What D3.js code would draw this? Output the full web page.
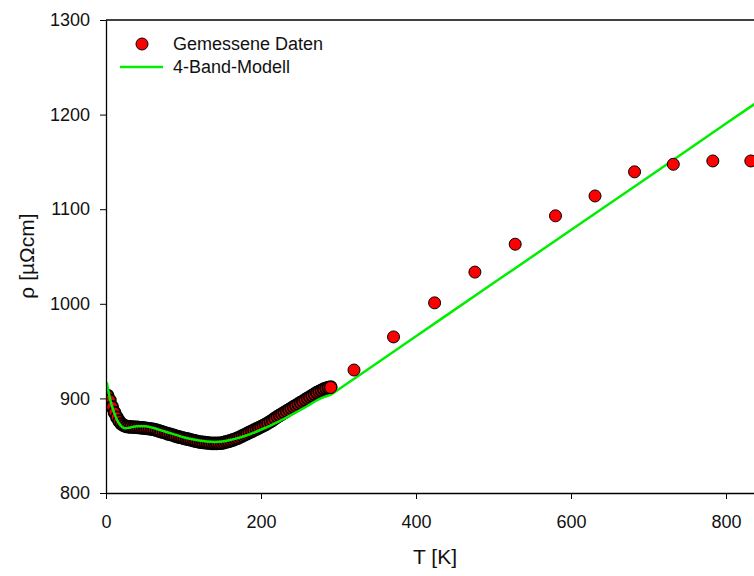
<!DOCTYPE html>
<html>
<head>
<meta charset="utf-8">
<script src="https://cdn.jsdelivr.net/npm/d3@7"></script>
<style>
  body { margin: 0; background: #fff; }
  svg { display: block; font-family: "Liberation Sans", Arial, sans-serif; }
</style>
</head>
<body>
<svg id="chart" width="754" height="576"></svg>
<script>
// measured resistivity, dense low-T sweep (T in K, rho in µΩcm)
const lowT = [2, 5, 8, 11, 14, 17, 20, 23, 26, 29, 32, 35, 38, 41, 44, 47, 50, 53, 56, 59,
  62, 65, 68, 71, 74, 77, 80, 83, 86, 89, 92, 95, 98, 101, 104, 107, 110, 113, 116, 119,
  122, 125, 128, 131, 134, 137, 140, 143, 146, 149, 152, 155, 158, 161, 164, 167, 170,
  173, 176, 179, 182, 185, 188, 191, 194, 197, 200, 203, 206, 209, 212, 215, 218, 221,
  224, 227, 230, 233, 236, 239, 242, 245, 248, 251, 254, 257, 260, 263, 266, 269, 272,
  275, 278, 281, 284, 287, 290];
const lowRho = [903, 898, 891, 885, 880, 876, 873, 871.5, 870.5, 870, 869.8, 869.6, 869.5,
  869.3, 869, 868.8, 868.5, 868.2, 867.9, 867.6, 867.1, 866.5, 865.6, 864.8, 864.2, 863.4,
  862.5, 861.9, 861.3, 860.3, 859.6, 859, 858.4, 857.8, 857.2, 856.6, 856, 855.4, 854.8,
  854.2, 853.8, 853.5, 853.2, 852.9, 852.6, 852.5, 852.5, 852.5, 852.6, 852.8, 853.3, 854,
  854.6, 855.3, 856.2, 857.1, 858, 859.2, 860.4, 861.6, 862.8, 864, 865.2, 866.4, 867.6,
  868.8, 870, 871.2, 872.5, 874, 875.5, 877, 878.8, 880.5, 882, 883.5, 885, 886.5, 888,
  889.5, 891, 892.5, 894, 895.5, 897, 898.5, 900, 901.5, 903, 904.5, 906, 907.3, 908.5,
  909.7, 910.6, 911.3, 912];

// measured resistivity, high-T points
const highT = [290, 320, 371, 424, 476, 528, 580, 631, 682, 732, 783, 832];
const highRho = [911.5, 930, 965, 1001, 1033.5, 1063, 1093, 1114, 1139.5, 1147.5, 1151, 1151];

// 4-band model curve
const modelT = [1, 5, 10, 15, 20, 25, 30, 40, 50, 60, 70, 80, 90, 100, 110, 120, 130, 140,
  150, 160, 170, 180, 190, 200, 210, 220, 230, 240, 250, 260, 270, 280, 290, 300, 400,
  500, 600, 700, 800, 840];
const modelRho = [917, 900, 886, 876, 870.5, 868.5, 869, 870.5, 870.5, 869, 866.5, 864,
  861.5, 859, 857, 855.5, 854.5, 854, 854.5, 856, 858, 860.5, 863.5, 867, 870.5, 874.5,
  878.5, 883, 887.5, 892, 897, 901, 904, 909.5, 965.7, 1021.9, 1078, 1134, 1190.5, 1213];

const xTicks = [0, 200, 400, 600, 800];
const yTicks = [800, 900, 1000, 1100, 1200, 1300];

const svg = d3.select("#chart");
const mLeft = 106, mTop = 20, mBottom = 493, W = 754;
const FONT = "Liberation Sans, Arial, sans-serif";

const x = d3.scaleLinear().domain([0, 200]).range([mLeft, 261]);
const y = d3.scaleLinear().domain([800, 1300]).range([mBottom, mTop]);

svg.append("defs").append("clipPath").attr("id", "plot")
  .append("rect").attr("x", mLeft).attr("y", mTop).attr("width", W - mLeft).attr("height", mBottom - mTop);

const plot = svg.append("g").attr("clip-path", "url(#plot)");

// dense measured band (overlapping outlines make it look dark)
plot.selectAll("circle.low")
  .data(lowT.map((t, i) => [t, lowRho[i]]))
  .join("circle")
  .attr("class", "low")
  .attr("cx", d => x(d[0]))
  .attr("cy", d => y(d[1]))
  .attr("r", 6)
  .attr("fill", "#e00000")
  .attr("stroke", "#000")
  .attr("stroke-width", 1.7);

// model line
const line = d3.line().curve(d3.curveMonotoneX)
  .x(d => x(d[0])).y(d => y(d[1]));
plot.append("path")
  .datum(modelT.map((t, i) => [t, modelRho[i]]))
  .attr("d", line)
  .attr("fill", "none")
  .attr("stroke", "#00ee00")
  .attr("stroke-width", 2.5);

// high T points
plot.selectAll("circle.high")
  .data(highT.map((t, i) => [t, highRho[i]]))
  .join("circle")
  .attr("class", "high")
  .attr("cx", d => x(d[0]))
  .attr("cy", d => y(d[1]))
  .attr("r", 6)
  .attr("fill", "#ff0000")
  .attr("stroke", "#000")
  .attr("stroke-width", 1);

// axes
const xAxis = svg.append("g").attr("transform", `translate(0,${mBottom})`)
  .call(d3.axisBottom(x).tickValues(xTicks).tickFormat(d3.format("d"))
    .tickSize(6).tickPadding(16).tickSizeOuter(0));
xAxis.select(".domain").attr("d", `M${mLeft},0.5H${W}`);
const yAxis = svg.append("g").attr("transform", `translate(${mLeft},0)`)
  .call(d3.axisLeft(y).tickValues(yTicks).tickFormat(d3.format("d"))
    .tickSize(6).tickPadding(10).tickSizeOuter(0));
svg.selectAll(".tick text").attr("font-size", 18).attr("fill", "#111")
  .attr("font-family", FONT);
svg.selectAll(".domain").attr("stroke", "#000").attr("stroke-width", 1.3);
svg.selectAll(".tick line").attr("stroke", "#000");

// top frame
svg.append("line").attr("x1", mLeft).attr("x2", W).attr("y1", mTop).attr("y2", mTop)
  .attr("stroke", "#000").attr("stroke-width", 1.3);

// axis titles
svg.append("text").attr("x", 435).attr("y", 564).attr("text-anchor", "middle")
  .attr("font-size", 21).attr("fill", "#111").text("T [K]");
svg.append("text").attr("transform", "translate(34,256) rotate(-90)")
  .attr("text-anchor", "middle").attr("font-size", 21).attr("fill", "#111").text("ρ [µΩcm]");

// legend
const lg = svg.append("g");
lg.append("circle").attr("cx", 142).attr("cy", 44).attr("r", 6)
  .attr("fill", "#ff0000").attr("stroke", "#000");
lg.append("text").attr("x", 173).attr("y", 50).attr("font-size", 18).attr("fill", "#111")
  .text("Gemessene Daten");
lg.append("line").attr("x1", 120).attr("x2", 163).attr("y1", 67).attr("y2", 67)
  .attr("stroke", "#00ee00").attr("stroke-width", 2.5);
lg.append("text").attr("x", 173).attr("y", 73).attr("font-size", 18).attr("fill", "#111")
  .text("4-Band-Modell");
</script>
</body>
</html>
